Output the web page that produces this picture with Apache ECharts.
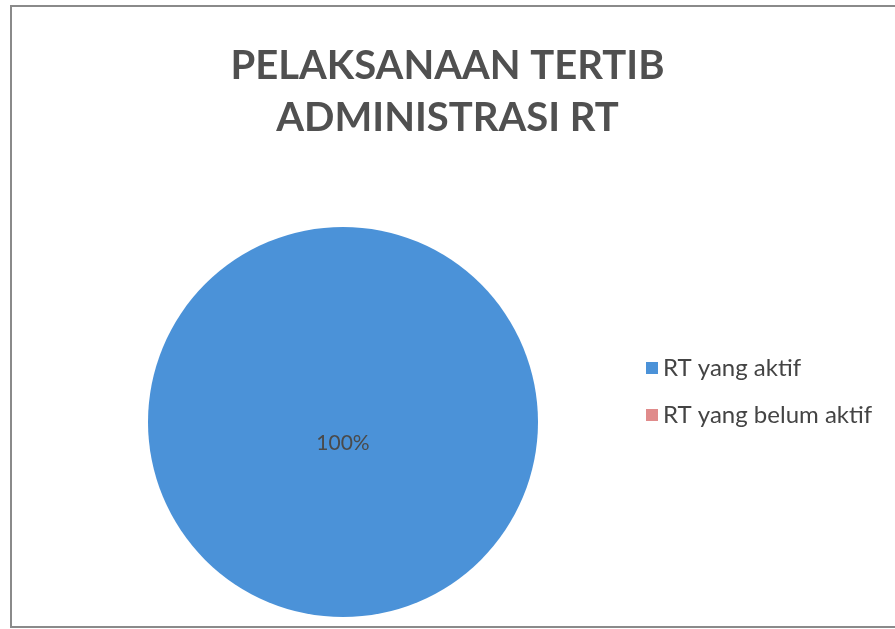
<!DOCTYPE html>
<html>
<head>
<meta charset="utf-8">
<script src="https://cdn.jsdelivr.net/npm/echarts@6/dist/echarts.min.js"></script>
<style>
  html, body { margin: 0; padding: 0; background: #fff; }
  #pie { width: 895px; height: 629px; }
</style>
</head>
<body>
<div id="pie"></div>
<script>
// data
let names = ['RT yang aktif', 'RT yang belum aktif'];
let values = [100, 0];
let colors = ['#4b92d8', '#e08b8b'];
let titleText = 'PELAKSANAAN TERTIB\nADMINISTRASI RT';

let pieData = [];
for (let i = 0; i < names.length; i++) {
    pieData.push({ name: names[i], value: values[i], itemStyle: { color: colors[i] } });
}

let pieChart = echarts.init(document.getElementById('pie'), null, { renderer: 'canvas' });
let option = {
    backgroundColor: '#ffffff',
    animation: false,
    title: {
        text: titleText,
        left: 'center',
        top: 35,
        textStyle: {
            fontFamily: 'Lato',
            fontWeight: 'bold',
            fontSize: 40,
            lineHeight: 52,
            color: '#505050'
        }
    },
    legend: {
        orient: 'vertical',
        left: 641,
        top: 351,
        icon: 'rect',
        itemWidth: 12,
        itemHeight: 12,
        itemGap: 23,
        data: names,
        textStyle: {
            fontFamily: 'Lato',
            fontSize: 24,
            color: '#444444'
        }
    },
    graphic: [{
        type: 'rect',
        shape: { x: 11, y: 6, width: 900, height: 621 },
        style: { fill: 'none', stroke: '#8a8a8a', lineWidth: 2 },
        silent: true
    }],
    series: [
        {
            name: 'RT',
            type: 'pie',
            center: [343, 422],
            radius: 195,
            startAngle: 90,
            data: pieData,
            itemStyle: { borderWidth: 0 },
            label: {
                show: true,
                position: 'center',
                offset: [0, 21],
                fontFamily: 'Lato',
                fontSize: 21,
                color: '#4a4a4a',
                formatter: function (p) {
                    return p.value > 0 ? Math.round(p.percent) + '%' : '';
                }
            },
            labelLine: { show: false },
            emphasis: { disabled: true }
        }
    ]
};
pieChart.setOption(option);
</script>
</body>
</html>
